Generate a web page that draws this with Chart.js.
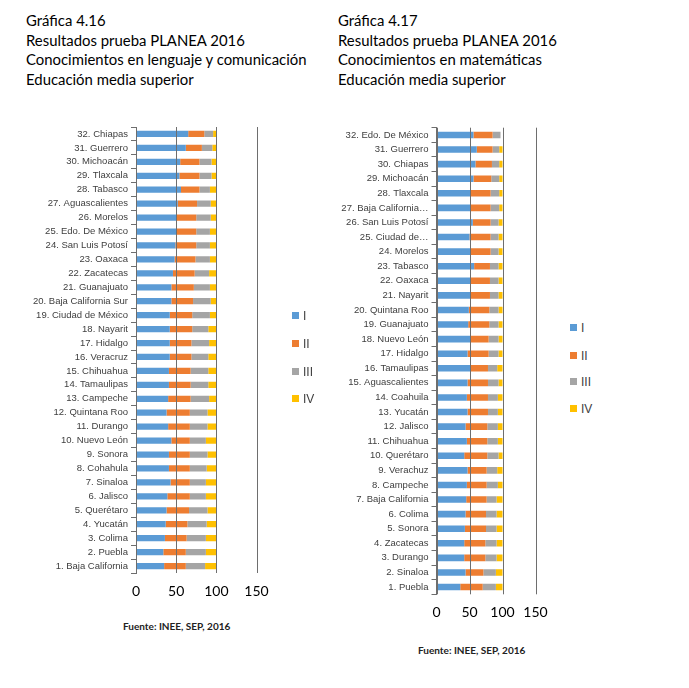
<!DOCTYPE html>
<html lang="es">
<head>
<meta charset="utf-8">
<script src="https://cdn.jsdelivr.net/npm/chart.js@4/dist/chart.umd.min.js"></script>
<style>
    body { margin: 0; background: #fff; width: 689px; height: 688px; position: relative; overflow: hidden; }
    .title { position: absolute; top: 11px; font-family: Lato, sans-serif; font-size: 14.9px; line-height: 19.7px; color: #000; white-space: nowrap; }
    .chart-box { position: absolute; }
    .legend { position: absolute; font-family: "Liberation Sans", Arial, sans-serif; font-size: 12px; color: #404040; }
    .legend div { position: absolute; white-space: nowrap; line-height: 12px; }
    .legend span { display: inline-block; width: 7px; height: 7px; margin-right: 4px; vertical-align: 1px; }
    .source { position: absolute; font-family: Lato, sans-serif; font-size: 10px; font-weight: bold; color: #222; white-space: nowrap; }
</style>
</head>
<body>

<div class="title" style="left:26px;">Gráfica 4.16<br>Resultados prueba PLANEA 2016<br>Conocimientos en lenguaje y comunicación<br>Educación media superior</div>
<div class="title" style="left:338px;">Gráfica 4.17<br>Resultados prueba PLANEA 2016<br>Conocimientos en matemáticas<br>Educación media superior</div>

<div class="chart-box" style="left:0; top:115px; width:280px; height:500px;"><canvas id="chartLeng" width="280" height="500"></canvas></div>
<div class="chart-box" style="left:300px; top:115px; width:262px; height:520px;"><canvas id="chartMat" width="262" height="520"></canvas></div>

<div class="legend" id="legendLeng" style="left:292px; top:0;"></div>
<div class="legend" id="legendMat" style="left:570px; top:0;"></div>

<div class="source" style="left:123px; top:620px;">Fuente: INEE, SEP, 2016</div>
<div class="source" style="left:418px; top:644px;">Fuente: INEE, SEP, 2016</div>

<script>
// Levels of achievement (I - IV)
const levels = ['I', 'II', 'III', 'IV'];
const levelColors = ['#5B9BD5', '#ED7D31', '#A5A5A5', '#FFC000'];

// Gráfica 4.16 - lenguaje y comunicación (state 1 first, drawn at bottom)
const statesLeng = ['1. Baja California', '2. Puebla', '3. Colima', '4. Yucatán', '5. Querétaro', '6. Jalisco',
    '7. Sinaloa', '8. Cohahula', '9. Sonora', '10. Nuevo León', '11. Durango', '12. Quintana Roo',
    '13. Campeche', '14. Tamaulipas', '15. Chihuahua', '16. Veracruz', '17. Hidalgo', '18. Nayarit',
    '19. Ciudad de México', '20. Baja California Sur', '21. Guanajuato', '22. Zacatecas', '23. Oaxaca',
    '24. San Luis Potosí', '25. Edo. De México', '26. Morelos', '27. Aguascalientes', '28. Tabasco',
    '29. Tlaxcala', '30. Michoacán', '31. Guerrero', '32. Chiapas'];
const lengI   = [35, 34, 36, 37, 38, 39, 43, 41, 41, 44, 40, 38, 40, 41, 41, 42, 42, 42, 42, 44, 44, 46, 48, 49, 50, 51, 52, 56, 54, 55, 62, 65];
const lengII  = [27, 28, 27, 27, 28, 28, 24, 26, 26, 23, 27, 29, 28, 27, 27, 27, 27, 28, 28, 27, 28, 27, 26, 26, 25, 24, 24, 23, 25, 24, 20, 20];
const lengIII = [24, 25, 24, 24, 23, 20, 20, 21, 22, 20, 22, 22, 23, 22, 22, 21, 22, 20, 22, 22, 20, 18, 18, 17, 17, 18, 17, 13, 15, 15, 13, 11];
const lengIV  = [14, 13, 13, 12, 11, 13, 13, 12, 11, 13, 11, 11,  9, 10, 10, 10,  9, 10,  8,  7,  8,  9,  8,  8,  8,  7,  7,  8,  6,  6,  5,  4];

// Gráfica 4.17 - matemáticas
const statesMat = ['1. Puebla', '2. Sinaloa', '3. Durango', '4. Zacatecas', '5. Sonora', '6. Colima',
    '7. Baja California', '8. Campeche', '9. Verachuz', '10. Querétaro', '11. Chihuahua', '12. Jalisco',
    '13. Yucatán', '14. Coahuila', '15. Aguascalientes', '16. Tamaulipas', '17. Hidalgo', '18. Nuevo León',
    '19. Guanajuato', '20. Quintana Roo', '21. Nayarit', '22. Oaxaca', '23. Tabasco', '24. Morelos',
    '25. Ciudad de…', '26. San Luis Potosí', '27. Baja California…', '28. Tlaxcala', '29. Michoacán',
    '30. Chiapas', '31. Guerrero', '32. Edo. De México'];
const matI   = [36, 44, 42, 42, 43, 44, 45, 46, 47, 42, 46, 44, 47, 46, 47, 51, 47, 51, 48, 49, 51, 52, 57, 52, 50, 55, 52, 51, 56, 59, 61, 56];
const matII  = [34, 27, 32, 32, 32, 31, 31, 30, 29, 35, 31, 33, 31, 32, 31, 27, 32, 28, 32, 31, 30, 29, 24, 30, 32, 27, 30, 31, 27, 25, 24, 29];
const matIII = [20, 19, 17, 17, 16, 16, 15, 17, 16, 17, 16, 16, 15, 15, 16, 14, 15, 15, 14, 14, 13, 13, 13, 12, 12, 12, 13, 13, 12, 11, 10, 12];
const matIV  = [10, 10,  9,  9,  9,  9,  9,  7,  8,  6,  7,  7,  7,  7,  6,  8,  6,  6,  6,  6,  6,  6,  6,  6,  6,  6,  5,  5,  5,  5,  5,  0];

// x axis ticks
const xTicks = [0, 50, 100, 150];

const axisGray = '#6e6e6e';

// Vertical gridlines at the x ticks, placed through the x scale
const gridPlugin = {
    id: 'valueGrid',
    afterDatasetsDraw(chart) {
        const { ctx, chartArea, scales } = chart;
        ctx.save();
        ctx.strokeStyle = axisGray;
        ctx.lineWidth = 1;
        xTicks.forEach(v => {
            const x = Math.round(scales.x.getPixelForValue(v)) + 0.5;
            ctx.beginPath();
            ctx.moveTo(x, chartArea.top);
            ctx.lineTo(x, chartArea.bottom);
            ctx.stroke();
        });
        ctx.restore();
    }
};

/**
 * Build one stacked horizontal bar chart.
 * box: y-axis width and paddings so the plot lands where the original has it
 */
function renderStackChart(canvasId, labels, series, box) {
    const ctx = document.getElementById(canvasId).getContext('2d');
    new Chart(ctx, {
        type: 'bar',
        data: {
            labels: labels,
            datasets: series.map((values, i) => ({
                label: levels[i],
                data: values,
                backgroundColor: levelColors[i],
                borderWidth: 0,
                categoryPercentage: 1,
                barPercentage: 0.45
            }))
        },
        options: {
            indexAxis: 'y',
            responsive: false,
            animation: false,
            layout: { padding: { left: 0, top: box.top, right: box.right, bottom: box.bottom } },
            plugins: { legend: { display: false }, tooltip: { enabled: false } },
            scales: {
                x: {
                    stacked: true,
                    min: xTicks[0],
                    max: xTicks[xTicks.length - 1],
                    ticks: { stepSize: 50, padding: 10, color: '#000', font: { family: 'Lato', size: 14 } },
                    afterFit: (scale) => { scale.height = 30; },
                    grid: { display: true, drawOnChartArea: false, drawTicks: false },
                    border: { display: false }
                },
                y: {
                    stacked: true,
                    reverse: true,
                    afterFit: (scale) => { scale.width = box.axisWidth; },
                    grid: { drawOnChartArea: false, drawTicks: true, tickLength: 5, color: axisGray, offset: true },
                    border: { display: true, color: axisGray },
                    ticks: { padding: 3, color: '#404040', autoSkip: false, font: { family: 'Liberation Sans', size: 9.5 } }
                }
            }
        },
        plugins: [gridPlugin]
    });
}

/**
 * Vertical legend placed beside each chart
 */
function renderLegend(id, rowsY) {
    const el = document.getElementById(id);
    levels.forEach((lvl, i) => {
        const row = document.createElement('div');
        row.style.top = (rowsY[i] - 6) + 'px';
        row.innerHTML = `<span style="background:${levelColors[i]}"></span>${lvl}`;
        el.appendChild(row);
    });
}

window.addEventListener('DOMContentLoaded', () => {
    renderStackChart('chartLeng', statesLeng, [lengI, lengII, lengIII, lengIV],
        { axisWidth: 136, top: 12, right: 23.5, bottom: 12 });
    renderStackChart('chartMat', statesMat, [matI, matII, matIII, matIV],
        { axisWidth: 136.5, top: 12.7, right: 26.5, bottom: 10.7 });

    renderLegend('legendLeng', [316, 344, 372, 399]);
    renderLegend('legendMat', [328, 356, 382, 409]);
});
</script>
</body>
</html>
